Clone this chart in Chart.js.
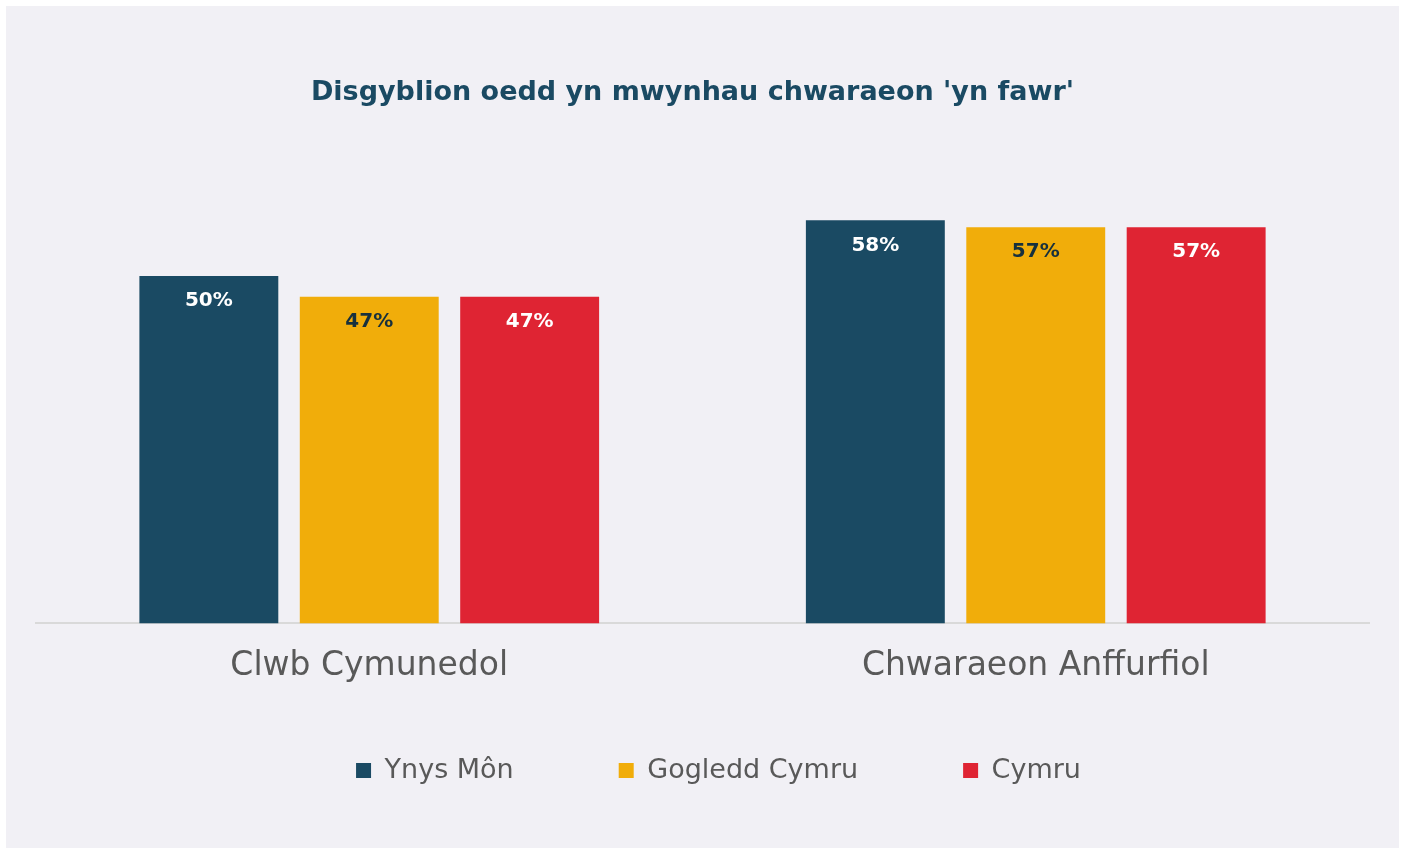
<!DOCTYPE html>
<html>
<head>
<meta charset="utf-8">
<script src="https://cdn.jsdelivr.net/npm/chart.js@4/dist/chart.umd.min.js"></script>
<style>
  html, body { margin: 0; padding: 0; background: #ffffff; }
  #wrap { position: absolute; left: 6px; top: 6px; width: 1393px; height: 842px; background: #f1f0f5; }
  canvas { display: block; }
</style>
</head>
<body>
<div id="wrap"><canvas id="chart" width="1393" height="842"></canvas></div>
<script>
const categories = ['Clwb Cymunedol', 'Chwaraeon Anffurfiol'];
const seriesNames = ['Ynys Môn', 'Gogledd Cymru', 'Cymru'];
const ynysMon = [50, 58];
const gogleddCymru = [47, 57];
const cymru = [47, 57];
const seriesColors = ['#1a4a63', '#f1ad0a', '#df2433'];
const labelColors = ['#ffffff', '#17303d', '#ffffff'];
const titleText = "Disgyblion oedd yn mwynhau chwaraeon 'yn fawr'";

const FONT = "'DejaVu Sans', 'Open Sans', sans-serif";

// Percentage labels drawn inside the top of each bar
const barValueLabels = {
  id: 'barValueLabels',
  afterDatasetsDraw(chart) {
    const ctx = chart.ctx;
    ctx.save();
    ctx.font = "bold 20px " + FONT;
    ctx.textAlign = 'center';
    ctx.textBaseline = 'middle';
    chart.data.datasets.forEach((ds, i) => {
      const meta = chart.getDatasetMeta(i);
      meta.data.forEach((bar, j) => {
        ctx.fillStyle = labelColors[i];
        ctx.fillText(ds.data[j] + '%', bar.x, bar.y + 25);
      });
    });
    ctx.restore();
  }
};

// The legend keeps wide horizontal gaps between items but sits closer to the axis labels;
// the title sits slightly left of centre
const legendOffset = { x: 16, y: -49 };
const titleOffsetX = -10;
const boxPlacement = {
  id: 'boxPlacement',
  afterLayout(chart) {
    const lg = chart.legend;
    if (lg) {
      lg.left += legendOffset.x;
      lg.right += legendOffset.x;
      lg.top += legendOffset.y;
      lg.bottom += legendOffset.y;
    }
    const tt = chart.titleBlock;
    if (tt) {
      tt.left += titleOffsetX;
      tt.right += titleOffsetX;
    }
  }
};

new Chart(document.getElementById('chart'), {
  type: 'bar',
  data: {
    labels: categories,
    datasets: [
      { label: seriesNames[0], data: ynysMon, backgroundColor: seriesColors[0] },
      { label: seriesNames[1], data: gogleddCymru, backgroundColor: seriesColors[1] },
      { label: seriesNames[2], data: cymru, backgroundColor: seriesColors[2] }
    ]
  },
  options: {
    responsive: false,
    animation: false,
    categoryPercentage: 0.722,
    barPercentage: 0.866,
    layout: { padding: { left: 30, right: 30, top: 0, bottom: 5 } },
    plugins: {
      title: {
        display: true,
        text: titleText,
        color: '#1a4a63',
        font: { family: FONT, size: 27, weight: 'bold' },
        padding: { top: 71, bottom: 97 }
      },
      legend: {
        position: 'bottom',
        labels: {
          color: '#595959',
          font: { family: FONT, size: 27 },
          boxWidth: 15,
          boxHeight: 15,
          padding: 105
        }
      },
      tooltip: { enabled: false }
    },
    scales: {
      x: {
        grid: { display: false },
        border: { color: '#d9d9d9', width: 2 },
        ticks: { color: '#595959', font: { family: FONT, size: 33 }, padding: 15 }
      },
      y: {
        display: false,
        min: 0,
        max: 60
      }
    }
  },
  plugins: [barValueLabels, boxPlacement]
});
</script>
</body>
</html>
